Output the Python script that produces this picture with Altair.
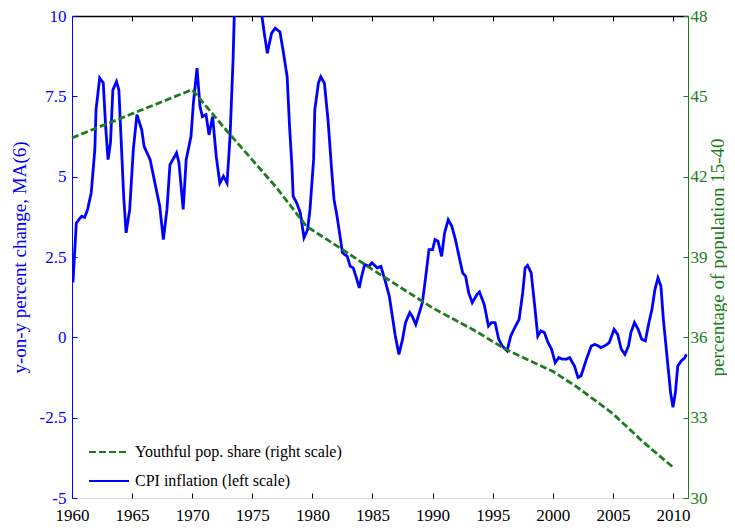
import altair as alt
import pandas as pd

# ---- data ----
cpi_years = [1960.08, 1960.36, 1960.8, 1961.05, 1961.3, 1961.6, 1961.9, 1962.0, 1962.3, 1962.6,
             1962.8, 1963.0, 1963.2, 1963.4, 1963.7, 1963.9, 1964.1, 1964.3, 1964.5, 1964.8,
             1965.1, 1965.4, 1965.8, 1966.0, 1966.5, 1966.9, 1967.3, 1967.6, 1967.9, 1968.15,
             1968.7, 1968.9, 1969.25, 1969.5, 1969.9, 1970.1, 1970.4, 1970.65, 1970.85, 1971.15,
             1971.4, 1971.7, 1972.0, 1972.3, 1972.6, 1972.9, 1973.15, 1973.4, 1973.5, 1973.8,
             1974.3, 1974.9, 1975.4, 1975.8, 1976.0, 1976.25, 1976.6, 1976.9, 1977.3, 1977.6,
             1977.9, 1978.1, 1978.3, 1978.4, 1978.7, 1979.0, 1979.3, 1979.6, 1979.8, 1980.1,
             1980.2, 1980.5, 1980.7, 1981.0, 1981.3, 1981.6, 1981.8, 1982.05, 1982.3, 1982.5,
             1982.9, 1983.15, 1983.4, 1983.7, 1983.9, 1984.1, 1984.35, 1984.7, 1984.95, 1985.4,
             1985.7, 1986.1, 1986.4, 1986.65, 1986.9, 1987.2, 1987.5, 1987.75, 1988.1, 1988.3,
             1988.6, 1988.9, 1989.15, 1989.4, 1989.7, 1990.0, 1990.2, 1990.45, 1990.75, 1991.0,
             1991.3, 1991.6, 1991.9, 1992.2, 1992.5, 1992.75, 1993.0, 1993.3, 1993.7, 1993.9,
             1994.3, 1994.65, 1994.9, 1995.2, 1995.5, 1995.8, 1996.2, 1996.5, 1996.9, 1997.2,
             1997.5, 1997.7, 1997.9, 1998.2, 1998.5, 1998.75, 1999.0, 1999.3, 1999.6, 1999.9,
             2000.2, 2000.5, 2000.8, 2001.15, 2001.4, 2001.8, 2002.1, 2002.35, 2002.8, 2003.2,
             2003.5, 2003.8, 2004.0, 2004.4, 2004.7, 2005.1, 2005.4, 2005.7, 2006.0, 2006.3,
             2006.5, 2006.8, 2007.1, 2007.4, 2007.7, 2008.0, 2008.25, 2008.5, 2008.75, 2009.0,
             2009.2, 2009.5, 2009.8, 2010.0, 2010.2, 2010.4, 2010.7, 2011.0, 2011.1]
cpi_values = [1.71, 3.56, 3.77, 3.73, 3.98, 4.5, 5.84, 7.08, 8.07, 7.92,
              6.56, 5.53, 6.05, 7.7, 7.96, 7.7, 6.05, 4.39, 3.25, 3.98,
              5.84, 6.93, 6.46, 5.94, 5.53, 4.8, 4.08, 3.04, 3.98, 5.37,
              5.74, 5.43, 3.98, 5.53, 6.25, 7.29, 8.38, 7.18, 6.87, 6.93,
              6.3, 6.87, 5.63, 4.8, 5.01, 4.8, 6.25, 8.63, 10.0, 11.2,
              12.0, 12.1, 11.2, 10.0, 9.46, 8.84, 9.46, 9.62, 9.51, 8.84,
              8.11, 6.56, 5.32, 4.39, 4.18, 3.87, 3.1, 3.35, 3.98, 5.53,
              7.08, 7.91, 8.11, 7.91, 6.77, 5.22, 4.29, 3.77, 3.15, 2.63,
              2.52, 2.21, 2.16, 1.8, 1.54, 1.9, 2.27, 2.21, 2.32, 2.16,
              2.21, 1.7, 1.28, 0.66, 0.04, -0.53, -0.06, 0.46, 0.77, 0.66,
              0.4, 0.77, 1.08, 1.8, 2.73, 2.73, 3.04, 2.99, 2.52, 3.25,
              3.66, 3.46, 3.04, 2.52, 2.01, 1.9, 1.39, 1.08, 1.34, 1.41,
              1.02, 0.35, 0.46, 0.46, -0.06, -0.27, -0.42, 0.04, 0.35, 0.56,
              1.39, 2.16, 2.24, 2.01, 0.97, 0.04, 0.2, 0.15, -0.16, -0.37,
              -0.79, -0.63, -0.68, -0.68, -0.63, -0.89, -1.25, -1.2, -0.68, -0.27,
              -0.22, -0.27, -0.32, -0.25, -0.16, 0.25, 0.09, -0.37, -0.53, -0.27,
              0.15, 0.46, 0.25, -0.06, -0.11, 0.46, 0.87, 1.49, 1.85, 1.59,
              0.56, -0.58, -1.72, -2.18, -1.72, -0.89, -0.73, -0.63, -0.53]

youth_years = [1960, 1970, 1973, 1977, 1979.5, 1982.5, 1985, 1990, 1993.6, 1996, 2000, 2002, 2005, 2007.5, 2010]
youth_values = [43.45, 45.25, 43.65, 41.6, 40.15, 39.28, 38.53, 37.1, 36.23, 35.57, 34.73, 34.15, 33.15, 32.1, 31.15]

series_names = ["Youthful pop. share (right scale)", "CPI inflation (left scale)"]
x_ticks = [1960, 1965, 1970, 1975, 1980, 1985, 1990, 1995, 2000, 2005, 2010]
left_ticks = [-5, -2.5, 0, 2.5, 5, 7.5, 10]
right_ticks = [30, 33, 36, 39, 42, 45, 48]

FONT = "Liberation Serif"
BLUE = "#0000ff"
GREEN = "#1e7b1e"
GREEN_TXT = "#1a7d1a"

cpi_df = pd.DataFrame({"year": cpi_years, "value": cpi_values, "series": series_names[1]})
youth_df = pd.DataFrame({"year": youth_years, "value": youth_values, "series": series_names[0]})

xscale = alt.Scale(domain=[1960, 2011.25], nice=False, zero=False)
color = alt.Color("series:N",
                  scale=alt.Scale(domain=series_names, range=[GREEN, BLUE]),
                  legend=alt.Legend(title=None, orient="none", legendX=16, legendY=415,
                                    symbolType="stroke", symbolSize=1600, symbolStrokeWidth=2,
                                    labelFont=FONT, labelFontSize=16, labelColor="black",
                                    labelLimit=500, rowPadding=-10, labelOffset=5))
dash = alt.StrokeDash("series:N",
                      scale=alt.Scale(domain=series_names, range=[[7, 3], [1, 0]]),
                      legend=None)

inside = alt.ExprRef(expr="-5")

cpi = alt.Chart(cpi_df).mark_line(strokeWidth=2.8, clip=True).encode(
    x=alt.X("year:Q", scale=xscale,
            axis=alt.Axis(orient="bottom", values=x_ticks, format="d", title=None,
                          domain=False, tickSize=inside, tickColor="black",
                          labelFont=FONT, labelFontSize=17, labelColor="black",
                          labelPadding=14, labelFlush=False, labelOverlap=False, grid=False)),
    y=alt.Y("value:Q", scale=alt.Scale(domain=[-5, 10], nice=False, zero=False),
            axis=alt.Axis(orient="left", values=left_ticks, labelExpr="toString(datum.value)",
                          title="y-on-y percent change, MA(6)", titleColor=BLUE,
                          titleFont=FONT, titleFontSize=19, titleFontWeight="normal",
                          titleX=-53, titleBaseline="middle",
                          domainColor=BLUE, tickColor=BLUE, tickSize=inside,
                          labelFont=FONT, labelFontSize=17, labelColor=BLUE,
                          labelPadding=11, labelFlush=False, labelOverlap=False, grid=False)),
    color=color,
    strokeDash=dash,
    order="year:Q",
)

youth = alt.Chart(youth_df).mark_line(strokeWidth=2.8).encode(
    x=alt.X("year:Q", scale=xscale,
            axis=alt.Axis(orient="top", values=x_ticks, labels=False, title=None,
                          domain=True, domainColor="black", domainWidth=1.5,
                          tickSize=inside, tickColor="black", grid=False)),
    y=alt.Y("value:Q", scale=alt.Scale(domain=[30, 48], nice=False, zero=False),
            axis=alt.Axis(orient="right", values=right_ticks,
                          title="percentage of population 15-40", titleColor=GREEN_TXT,
                          titleFont=FONT, titleFontSize=19, titleFontWeight="normal",
                          titleAngle=270, titleX=29, titleBaseline="middle",
                          domainColor=GREEN_TXT, tickColor=GREEN_TXT, tickSize=inside,
                          labelFont=FONT, labelFontSize=17, labelColor=GREEN_TXT,
                          labelPadding=7, labelFlush=False, labelOverlap=False, grid=False)),
    color=color,
    strokeDash=dash,
    order="year:Q",
)

chart = alt.layer(cpi, youth).resolve_scale(y="independent").resolve_axis(
    x="independent", y="independent"
).properties(
    width=616, height=482,
    autosize=alt.AutoSizeParams(type="none"),
    padding={"left": 64, "top": 8, "right": 39, "bottom": 30},
).configure_view(stroke=None).configure(background="white")

chart.save("out.html", embed_options={"renderer": "svg", "actions": False})
